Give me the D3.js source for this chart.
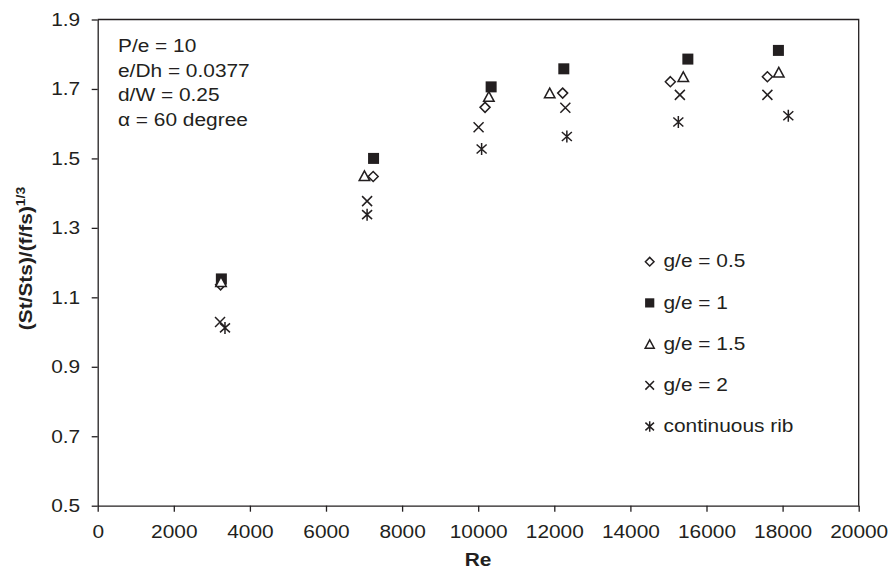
<!DOCTYPE html>
<html>
<head>
<meta charset="utf-8">
<script src="https://cdn.jsdelivr.net/npm/d3@7"></script>
<style>
  html, body { margin: 0; padding: 0; background: #fff; }
  svg { display: block; font-family: "Liberation Sans", Arial, Helvetica, sans-serif; }
</style>
</head>
<body>
<svg id="chart" width="892" height="573"></svg>
<script>
// ---- data ----
const seriesNames = ["g/e = 0.5", "g/e = 1", "g/e = 1.5", "g/e = 2", "continuous rib"];
const reDiamond = [3230, 7240, 10180, 12220, 15050, 17600];
const valDiamond = [1.136, 1.448, 1.647, 1.688, 1.721, 1.735];
const reSquare = [3250, 7250, 10340, 12250, 15510, 17890];
const valSquare = [1.153, 1.500, 1.706, 1.758, 1.786, 1.811];
const reTriangle = [3240, 7010, 10280, 11880, 15390, 17900];
const valTriangle = [1.145, 1.450, 1.678, 1.688, 1.735, 1.748];
const reCross = [3215, 7080, 10010, 12290, 15300, 17600];
const valCross = [1.029, 1.377, 1.590, 1.646, 1.683, 1.683];
const reStar = [3345, 7080, 10090, 12330, 15260, 18150];
const valStar = [1.012, 1.338, 1.527, 1.563, 1.605, 1.623];
const xTicks = [0, 2000, 4000, 6000, 8000, 10000, 12000, 14000, 16000, 18000, 20000];
const yTicks = [0.5, 0.7, 0.9, 1.1, 1.3, 1.5, 1.7, 1.9];
const annotations = ["P/e = 10", "e/Dh = 0.0377", "d/W = 0.25", "\u03B1 = 60 degree"];

// ---- setup ----
const ink = "#231f20";
const K = 1.16; // horizontal text stretch
const svg = d3.select("#chart");
const x = d3.scaleLinear().domain([0, 20000]).range([97.7, 858.7]);
const y = d3.scaleLinear().domain([0.5, 1.9]).range([505.7, 19.5]);

function stretch(sel) {
  sel.each(function () {
    const t = d3.select(this);
    const xv = +(t.attr("x") || 0);
    t.attr("x", xv / K).attr("transform", `scale(${K},1)`);
  });
}

// frame (top & right)
svg.append("path")
  .attr("d", `M${x(0)},${y(1.9)}H${x(20000)}V${y(0.5)}`)
  .attr("fill", "none").attr("stroke", ink).attr("stroke-width", 1.3);

// axes
const gx = svg.append("g").attr("transform", `translate(0,${y(0.5)})`)
  .call(d3.axisBottom(x).tickValues(xTicks).tickFormat(d => String(d)).tickSize(6).tickSizeOuter(0));
const gy = svg.append("g").attr("transform", `translate(${x(0)},0)`)
  .call(d3.axisLeft(y).tickValues(yTicks).tickFormat(d3.format(".1f")).tickSize(6).tickSizeOuter(0));
[gx, gy].forEach(g => {
  g.attr("font-family", null).attr("font-size", null);
  g.selectAll("path.domain").attr("stroke", ink).attr("stroke-width", 1.3);
  g.selectAll(".tick line").attr("stroke", ink).attr("stroke-width", 1.3);
  g.selectAll(".tick text").attr("fill", "#231f20").attr("font-size", 18);
});
gx.selectAll(".tick text").attr("y", 19.5).attr("dy", "0.71em");
gy.selectAll(".tick text").attr("x", -17.5).attr("dy", "0.33em");
stretch(gx.selectAll(".tick text"));
stretch(gy.selectAll(".tick text"));

// axis titles
const xt = svg.append("text").attr("x", 478).attr("y", 566)
  .attr("text-anchor", "middle").attr("font-size", 18).attr("font-weight", "bold").attr("fill", ink)
  .text("Re");
stretch(xt);
const yl = svg.append("g").attr("transform", "translate(32,258.5) rotate(-90)");
const ylt = yl.append("text").attr("text-anchor", "middle").attr("font-size", 18)
  .attr("font-weight", "bold").attr("fill", ink);
ylt.append("tspan").text("(St/Sts)/(f/fs)");
ylt.append("tspan").attr("font-size", 12).attr("dy", -7).text("1/3");
stretch(ylt);

// annotation
annotations.forEach((a, i) => {
  const t = svg.append("text").attr("x", 118).attr("y", 52.5 + i * 24.5)
    .attr("font-size", 18).attr("fill", ink).text(a);
  stretch(t);
});

// markers
function drawMarker(g, type, s) {
  if (type === "diamond") {
    g.append("path").attr("d", `M0,${-s}L${s},0L0,${s}L${-s},0Z`)
      .attr("fill", "#fff").attr("stroke", ink).attr("stroke-width", 1.5);
  } else if (type === "square") {
    g.append("rect").attr("x", -s).attr("y", -s).attr("width", 2 * s).attr("height", 2 * s)
      .attr("fill", ink);
  } else if (type === "triangle") {
    g.append("path").attr("d", `M0,${-s}L${s * 1.05},${s * 0.95}L${-s * 1.05},${s * 0.95}Z`)
      .attr("fill", "#fff").attr("stroke", ink).attr("stroke-width", 1.5).attr("stroke-linejoin", "miter");
  } else if (type === "cross") {
    g.append("path").attr("d", `M${-s},${-s}L${s},${s}M${s},${-s}L${-s},${s}`)
      .attr("stroke", ink).attr("stroke-width", 1.5);
  } else if (type === "star") {
    g.append("path").attr("d", `M${-s},${-s * 0.9}L${s},${s * 0.9}M${s},${-s * 0.9}L${-s},${s * 0.9}M0,${-s * 1.2}L0,${s * 1.2}`)
      .attr("stroke", ink).attr("stroke-width", 1.5);
  }
}

const series = [
  { name: seriesNames[0], type: "diamond", re: reDiamond, v: valDiamond, s: 5 },
  { name: seriesNames[1], type: "square", re: reSquare, v: valSquare, s: 5.5 },
  { name: seriesNames[2], type: "triangle", re: reTriangle, v: valTriangle, s: 5 },
  { name: seriesNames[3], type: "cross", re: reCross, v: valCross, s: 5 },
  { name: seriesNames[4], type: "star", re: reStar, v: valStar, s: 5 }
];

// draw order: diamond, square, triangle, cross, star
series.forEach(sr => {
  const g = svg.append("g").attr("class", "series");
  sr.re.forEach((r, i) => {
    const m = g.append("g").attr("transform", `translate(${x(r)},${y(sr.v[i])})`);
    drawMarker(m, sr.type, sr.s);
  });
});

// legend
series.forEach((sr, i) => {
  const cy = 261.7 + i * 41.2;
  const m = svg.append("g").attr("transform", `translate(649.7,${cy})`);
  drawMarker(m, sr.type, sr.type === "square" ? 4.6 : 4.3);
  const t = svg.append("text").attr("x", 663.5).attr("y", cy + 5.8)
    .attr("font-size", 18).attr("fill", ink).text(sr.name);
  stretch(t);
});
</script>
</body>
</html>
